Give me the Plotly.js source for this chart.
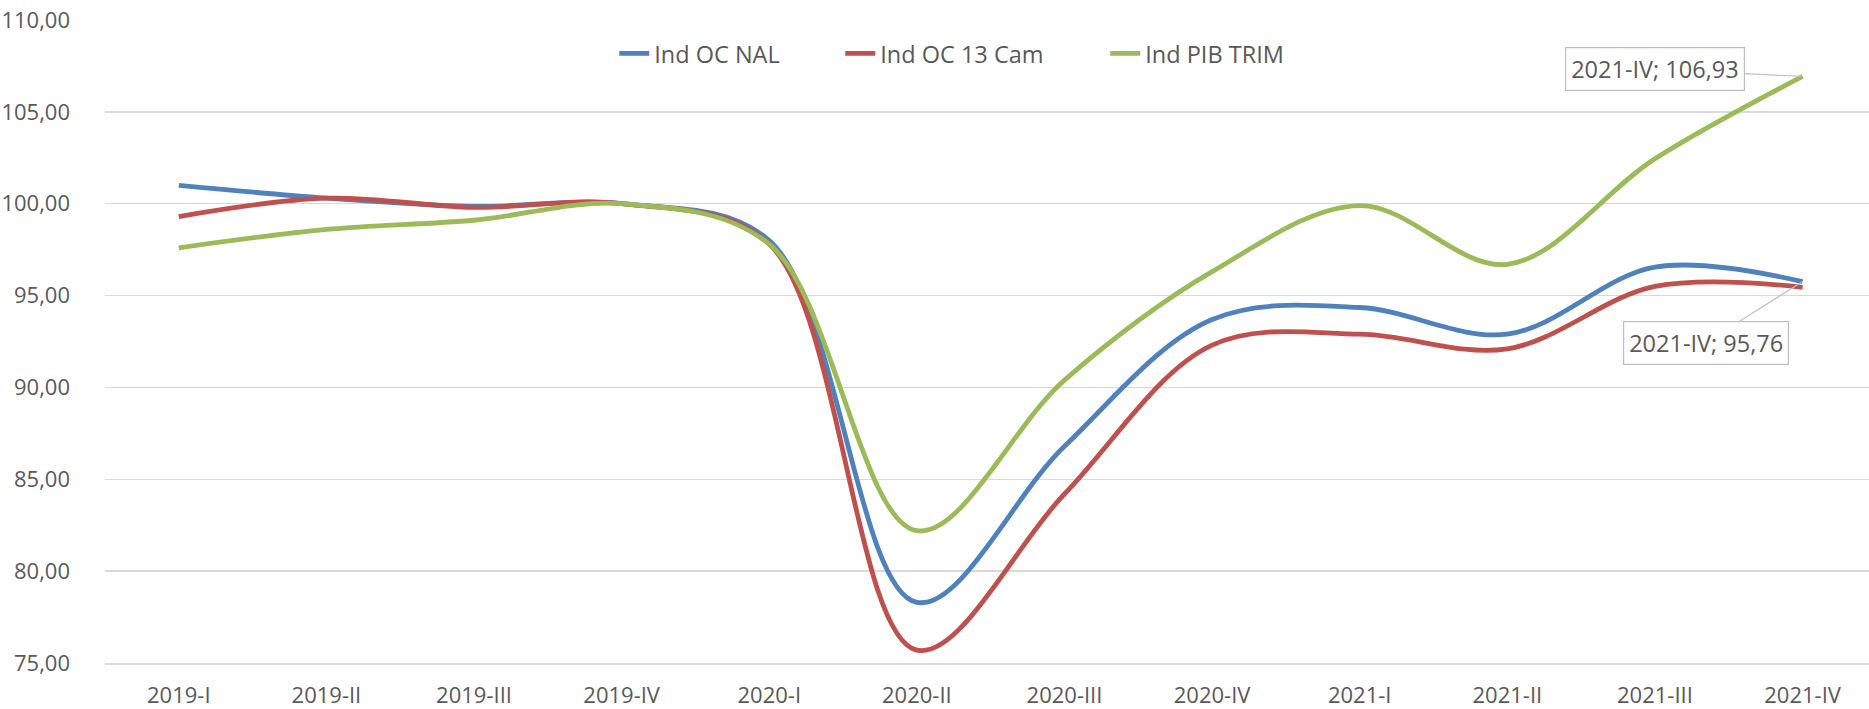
<!DOCTYPE html>
<html><head><meta charset="utf-8">
<script src="https://cdn.plot.ly/plotly-3.0.1.min.js"></script>
<style>html,body{margin:0;padding:0;background:#fff;} #chart{width:1869px;height:709px;}</style>
</head><body><div id="chart"></div>
<script>
const categories = ['2019-I','2019-II','2019-III','2019-IV','2020-I','2020-II','2020-III','2020-IV','2021-I','2021-II','2021-III','2021-IV'];
const indOcNal   = [101.0, 100.3, 99.85, 100.0, 98.0, 78.3, 86.8, 93.7, 94.35, 92.9, 96.55, 95.76];
const indOc13Cam = [99.3, 100.3, 99.8, 100.0, 97.8, 75.7, 84.2, 92.3, 92.9, 92.1, 95.5, 95.45];
const indPibTrim = [97.6, 98.6, 99.1, 100.0, 97.8, 82.2, 90.4, 96.3, 99.9, 96.7, 102.45, 106.93];
const seriesNames = ['Ind OC NAL', 'Ind OC 13 Cam', 'Ind PIB TRIM'];
const seriesColors = ['#4F81BD', '#C0504D', '#9BBB59'];
const legendWidths = [181, 220, 150];

const FONT = '"Open Sans", "Noto Sans", sans-serif';
const TXT = '#595959';

const allSeries = [indOcNal, indOc13Cam, indPibTrim];
const traces = allSeries.map((vals, i) => ({
  type: 'scatter', mode: 'lines', name: seriesNames[i],
  x: categories, y: vals,
  line: {color: seriesColors[i], width: 4.8, shape: 'spline', smoothing: 1},
  legendwidth: legendWidths[i],
  hoverinfo: 'x+y+name'
}));

function fmt(v){ return v.toFixed(2).replace('.', ','); }
const last = categories.length - 1;

const layout = {
  width: 1869, height: 709,
  margin: {l: 105, r: 0, t: 20, b: 46},
  paper_bgcolor: '#fff', plot_bgcolor: '#fff',
  separators: ',.',
  font: {family: FONT, size: 22, color: TXT},
  showlegend: true,
  legend: {orientation: 'h', x: 0.2887, xanchor: 'left', y: 0.9476, yanchor: 'middle',
           font: {family: FONT, size: 23.5, color: TXT}, bgcolor: 'rgba(0,0,0,0)', traceorder: 'normal'},
  xaxis: {type: 'category', range: [-0.5, 11.45], showgrid: false, zeroline: false,
          showline: true, linecolor: '#D9D9D9', linewidth: 1.5, ticks: '',
          ticklabelstandoff: 12, tickfont: {family: FONT, size: 22, color: TXT}, fixedrange: true},
  yaxis: {range: [75, 110], dtick: 5, tick0: 75, tickformat: '.2f', showgrid: true,
          gridcolor: '#D9D9D9', gridwidth: 1.5, zeroline: false, showline: false, ticks: '',
          ticklabelstandoff: 34, tickfont: {family: FONT, size: 22, color: TXT}, fixedrange: true},
  annotations: [
    {x: categories[last], y: indPibTrim[last], xref: 'x', yref: 'y',
     text: categories[last] + '; ' + fmt(indPibTrim[last]),
     showarrow: true, arrowhead: 0, arrowwidth: 1.2, arrowcolor: '#BFBFBF',
     ax: -148, ay: -7, bgcolor: '#fff', bordercolor: '#BFBFBF', borderwidth: 1.2, borderpad: 5,
     font: {family: FONT, size: 23.5, color: TXT}},
    {x: categories[last], y: indOcNal[last], xref: 'x', yref: 'y',
     text: categories[last] + '; ' + fmt(indOcNal[last]),
     showarrow: true, arrowhead: 0, arrowwidth: 1.2, arrowcolor: '#BFBFBF',
     ax: -97, ay: 61, bgcolor: '#fff', bordercolor: '#BFBFBF', borderwidth: 1.2, borderpad: 5,
     font: {family: FONT, size: 23.5, color: TXT}}
  ]
};

Plotly.newPlot('chart', traces, layout, {displayModeBar: false, staticPlot: true});
</script>
</body></html>
